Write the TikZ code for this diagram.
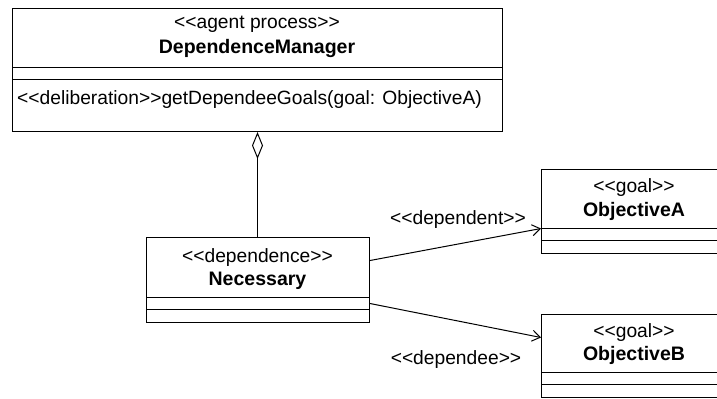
\documentclass[tikz,border=0pt]{standalone}
\usepackage{fontspec}
\newfontfamily\umlfont{Liberation Sans}
\usetikzlibrary{arrows.meta}
\begin{document}
\begin{tikzpicture}[x=1bp,y=-1bp,
  umlbox/.style={draw=black, line width=1bp, fill=white, anchor=north west, inner sep=0pt},
  sep/.style={line width=1bp},
  stereo/.style={font=\umlfont\fontsize{19.3}{22}\selectfont, inner sep=0pt, anchor=base},
  cname/.style={font=\umlfont\bfseries\fontsize{19.6}{22}\selectfont, inner sep=0pt, anchor=base},
  conn/.style={draw=black, line width=1bp},
  lbl/.style={font=\umlfont\fontsize{19.3}{22}\selectfont, inner sep=0pt, anchor=base}]
\useasboundingbox (0,0) rectangle (717,398);
\fill[white] (0,0) rectangle (717,398);
% DependenceManager
\node[umlbox, minimum width=490bp, minimum height=123bp] (dm) at (12,8) {};
\draw[sep] (12,67) -- (502,67) (12,79) -- (502,79);
\node[stereo] (dmS) at (257,28.5) {<<agent process>>};
\node[cname] (dmN) at (257,53.5) {DependenceManager};
\node[stereo, anchor=base west] (dmM) at (17,104) {<<deliberation>>getDependeeGoals(goal: ObjectiveA)};
% Necessary
\node[umlbox, minimum width=223bp, minimum height=85bp] (nec) at (146,237) {};
\draw[sep] (146,297) -- (369,297) (146,309) -- (369,309);
\node[stereo] (necS) at (257.5,262) {<<dependence>>};
\node[cname] (necN) at (257.5,285) {Necessary};
% ObjectiveA
\node[umlbox, minimum width=186bp, minimum height=84bp] (oa) at (541,169) {};
\draw[sep] (541,228) -- (727,228) (541,240) -- (727,240);
\node[stereo] (oaS) at (634,192) {<<goal>>};
\node[cname] (oaN) at (634,216) {ObjectiveA};
% ObjectiveB
\node[umlbox, minimum width=186bp, minimum height=83bp] (ob) at (541,314) {};
\draw[sep] (541,372) -- (727,372) (541,384) -- (727,384);
\node[stereo] (obS) at (634,337) {<<goal>>};
\node[cname] (obN) at (634,360) {ObjectiveB};
% connectors
\draw[conn, {Diamond[open, length=27bp, width=11bp, line width=1bp]}-] (dm.south) -- (dm.south |- nec.north);
\draw[conn, -{Straight Barb[length=8bp, width=11bp]}] ([yshift=19.5bp]nec.east) -- ([yshift=-17bp]oa.west);
\draw[conn, -{Straight Barb[length=8bp, width=11bp]}] ([yshift=-23.5bp]nec.east) -- ([yshift=18.5bp]ob.west);
\node[lbl] (l1) at (458,224) {<<dependent>>};
\node[lbl] (l2) at (456,364) {<<dependee>>};
\end{tikzpicture}
\end{document}
